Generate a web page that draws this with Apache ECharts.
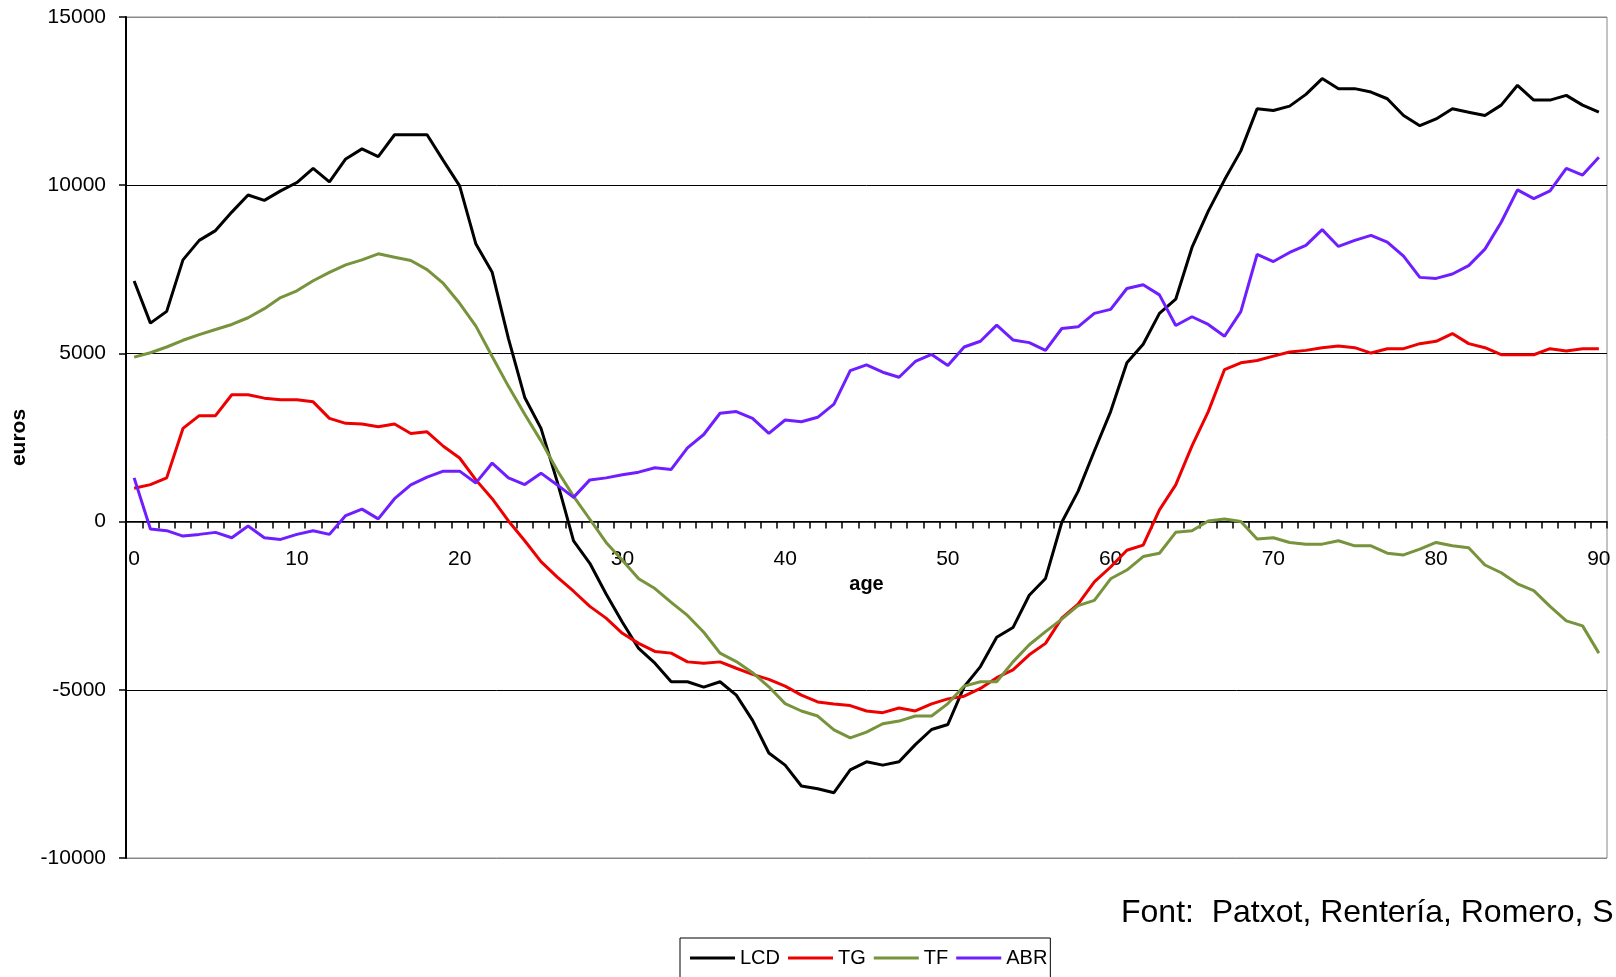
<!DOCTYPE html>
<html>
<head>
<meta charset="utf-8">
<title>LCD TG TF ABR</title>
<script src="https://cdn.jsdelivr.net/npm/echarts@6/dist/echarts.min.js"></script>
<style>
  html, body { margin: 0; padding: 0; background: #fff; }
  #chart { width: 1616px; height: 977px; }
</style>
</head>
<body>
<div id="chart"></div>
<script>
// ages 0..90
const ages = [];
for (let a = 0; a <= 90; a++) ages.push(String(a));

const seriesNames = ['LCD', 'TG', 'TF', 'ABR'];
const seriesColors = ['#000000', '#ee0000', '#77933c', '#6f1fff'];

const lcd = [
  7150, 5900, 6250, 7780, 8360, 8650, 9200, 9710, 9550, 9830,
  10080, 10500, 10100, 10780, 11080, 10850, 11500, 11500, 11500, 10730,
  9980, 8250, 7410, 5440, 3690, 2770, 1180, -570, -1240, -2150,
  -2990, -3770, -4210, -4760, -4760, -4920, -4760, -5160, -5910, -6880,
  -7240, -7860, -7940, -8060, -7380, -7140, -7240, -7140, -6630, -6180,
  -6030, -4910, -4310, -3440, -3150, -2190, -1690, -20, 900, 2100,
  3270, 4720, 5270, 6190, 6610, 8150, 9230, 10160, 11020, 12270,
  12220, 12350, 12700, 13170, 12870, 12870, 12770, 12570, 12070, 11770,
  11970, 12270, 12170, 12070, 12380, 12970, 12530, 12530, 12670, 12380,
  12170
];

const tg = [
  990, 1100, 1300, 2770, 3150, 3150, 3770, 3770, 3670, 3620,
  3620, 3560, 3070, 2920, 2900, 2820, 2900, 2620, 2670, 2240,
  1890, 1240, 680, 20, -570, -1190, -1650, -2070, -2520, -2870,
  -3320, -3620, -3860, -3910, -4170, -4210, -4170, -4360, -4540, -4690,
  -4890, -5160, -5360, -5420, -5470, -5630, -5680, -5540, -5630, -5420,
  -5270, -5190, -4960, -4640, -4410, -3960, -3620, -2870, -2450, -1790,
  -1350, -850, -700, 350, 1090, 2250, 3270, 4520, 4720, 4790,
  4920, 5040, 5090, 5170, 5220, 5170, 5010, 5140, 5140, 5290,
  5360, 5590, 5290, 5170, 4960, 4960, 4960, 5140, 5070, 5140,
  5140
];

const tf = [
  4890, 5020, 5190, 5390, 5560, 5710, 5860, 6060, 6330, 6660,
  6860, 7160, 7410, 7630, 7780, 7960, 7860, 7760, 7490, 7080,
  6490, 5810, 4910, 4020, 3190, 2400, 1520, 750, 70, -620,
  -1150, -1700, -1990, -2400, -2790, -3290, -3910, -4160, -4490, -4910,
  -5410, -5630, -5780, -6190, -6430, -6260, -6010, -5930, -5780, -5780,
  -5410, -4890, -4760, -4760, -4170, -3660, -3270, -2900, -2500, -2340,
  -1700, -1440, -1040, -940, -320, -270, 20, 80, 0, -520,
  -480, -620, -670, -670, -570, -720, -720, -940, -990, -820,
  -620, -720, -780, -1290, -1520, -1850, -2050, -2520, -2950, -3100,
  -3910
];

const abr = [
  1300, -220, -270, -430, -380, -320, -480, -130, -480, -530,
  -380, -270, -380, 180, 370, 80, 680, 1090, 1320, 1500,
  1500, 1150, 1740, 1300, 1100, 1440, 1090, 720, 1240, 1300,
  1390, 1470, 1600, 1550, 2190, 2590, 3220, 3270, 3070, 2620,
  3020, 2970, 3100, 3490, 4490, 4660, 4440, 4290, 4760, 4970,
  4640, 5190, 5360, 5840, 5400, 5320, 5090, 5740, 5790, 6190,
  6310, 6930, 7040, 6740, 5830, 6090, 5860, 5510, 6240, 7940,
  7730, 8000, 8210, 8680, 8180, 8360, 8510, 8310, 7890, 7260,
  7230, 7360, 7610, 8100, 8900, 9860, 9600, 9830, 10500, 10300,
  10830
];

const yMin = -10000;
const yMax = 15000;
const yStep = 5000;
const sourceNote = 'Font:  Patxot, Rentería, Romero, S';

const font = '"Liberation Sans", Arial, sans-serif';
const myChart = echarts.init(document.getElementById('chart'));

const allData = [lcd, tg, tf, abr];

const option = {
  animation: false,
  textStyle: { fontFamily: font, color: '#000' },
  grid: {
    left: 126,
    right: 9,
    top: 17,
    bottom: 119,
    show: true,
    borderColor: '#888',
    borderWidth: 1,
    backgroundColor: '#fff'
  },
  legend: {
    data: seriesNames,
    left: 680,
    top: 938,
    padding: [10, 3, 10, 10],
    itemGap: 8,
    itemWidth: 45,
    itemHeight: 3,
    icon: 'rect',
    borderColor: '#000',
    borderWidth: 1,
    backgroundColor: '#fff',
    textStyle: { fontFamily: font, fontSize: 20, color: '#000' }
  },
  xAxis: {
    type: 'category',
    data: ages,
    boundaryGap: true,
    name: 'age',
    nameLocation: 'middle',
    // labels and name sit under the zero line, not under the plot
    nameGap: -291,
    nameTextStyle: { fontFamily: font, fontSize: 20, fontWeight: 'bold', color: '#000' },
    axisLine: { onZero: true, lineStyle: { color: '#000', width: 1.5 } },
    axisTick: { show: true, interval: 0, length: 7, lineStyle: { color: '#000', width: 1.5 } },
    axisLabel: { interval: 9, margin: -309, fontSize: 21, color: '#000', fontFamily: font },
    splitLine: { show: false }
  },
  yAxis: {
    type: 'value',
    min: yMin,
    max: yMax,
    interval: yStep,
    name: 'euros',
    nameLocation: 'middle',
    nameGap: 95,
    nameTextStyle: { fontFamily: font, fontSize: 21, fontWeight: 'bold', color: '#000' },
    axisLine: { show: true, lineStyle: { color: '#000', width: 2 } },
    axisTick: { show: true, length: 7, lineStyle: { color: '#000', width: 1.5 } },
    axisLabel: {
      margin: 20,
      fontSize: 21,
      color: '#000',
      fontFamily: font,
      formatter: v => String(v)
    },
    splitLine: {
      show: true,
      // top and bottom lines are the grey plot border
      lineStyle: { color: ['#888', '#000', '#000', '#000', '#000', '#888'], width: 1 }
    }
  },
  graphic: [
    {
      type: 'text',
      x: 1121,
      y: 913,
      style: {
        text: sourceNote,
        fill: '#000',
        font: '32px "Liberation Sans", Arial, sans-serif',
        align: 'left',
        verticalAlign: 'middle'
      }
    }
  ],
  series: seriesNames.map((name, i) => ({
    name: name,
    type: 'line',
    data: allData[i],
    symbol: 'none',
    smooth: false,
    color: seriesColors[i],
    lineStyle: { color: seriesColors[i], width: 3 },
    emphasis: { disabled: true }
  }))
};

myChart.setOption(option);
</script>
</body>
</html>
